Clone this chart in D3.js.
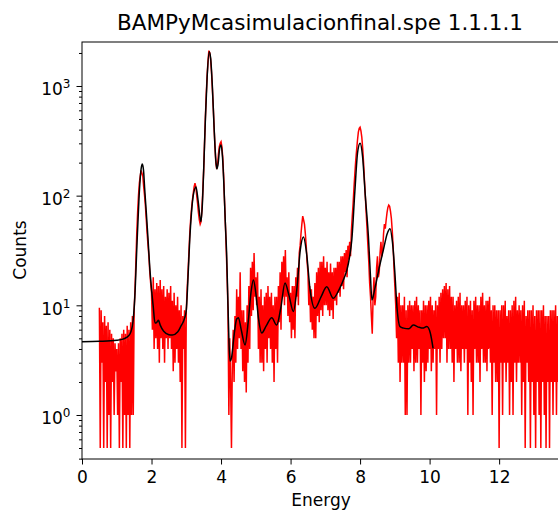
<!DOCTYPE html>
<html>
<head>
<meta charset="utf-8">
<script src="https://cdn.jsdelivr.net/npm/d3@7"></script>
<style>
  body { margin: 0; background: #fff; }
  text { font-family: "DejaVu Sans", sans-serif; fill: #000; }
</style>
</head>
<body>
<svg id="chart"></svg>
<script>
// measured spectrum: channel energy = redStart + i * redStep (keV), 20 channels per row
const redStart = 0.5;
const redStep = 0.025;
const redCounts = [
  9.5, 0.5, 9, 3, 7, 0.5, 8, 2, 6.5, 0.5, 7, 1, 6, 0.5, 5.5, 2, 5, 1, 4.5, 2.5,
  4, 1, 4.5, 0.5, 5, 2, 5.5, 0.5, 6, 1, 5.5, 0.5, 6.5, 1, 6, 0.5, 7, 1, 8, 1,
  9, 14, 25, 45, 70, 100, 130, 150, 170, 160, 150, 120, 100, 80, 60, 45, 35, 28, 20, 16,
  13, 6, 18, 4, 14, 5, 16, 4, 15, 3, 17, 5, 14, 4, 15, 3, 12, 5, 14, 4,
  13, 5, 15, 4, 11, 2.5, 13, 3, 10, 4, 12, 3, 9, 2, 10, 0.5, 8, 4, 9, 0.5,
  9, 14, 20, 30, 45, 60, 75, 90, 105, 120, 130, 120, 100, 85, 70, 60, 55, 58, 75, 110,
  170, 300, 520, 850, 1250, 1700, 2100, 2000, 1750, 1350, 950, 650, 420, 280, 200, 175, 190, 240, 280, 300,
  310, 280, 220, 150, 90, 55, 32, 18, 9, 1, 5, 2, 0.5, 3, 6, 2, 8, 3, 14, 4,
  12, 5, 20, 4, 9, 2.5, 9, 2, 7, 1.6, 10, 3, 15, 4, 22, 8, 25, 9, 30, 12,
  18, 10, 20, 4, 12, 3, 14, 3, 10, 2.5, 12, 4, 13, 3, 15, 5, 12, 4, 13, 3,
  10, 2, 12, 4, 12, 3, 15, 7, 20, 6, 25, 12, 28, 10, 32, 12, 18, 8, 20, 7,
  13, 5, 15, 6, 15, 5, 18, 12, 22, 10, 30, 35, 45, 55, 65, 60, 55, 45, 35, 25,
  20, 10, 15, 7, 14, 6, 12, 5, 16, 5, 20, 8, 22, 7, 25, 9, 25, 8, 28, 10,
  22, 10, 25, 9, 20, 8, 24, 9, 20, 7.5, 22, 11, 22, 10, 25, 13, 25, 12, 28, 15,
  28, 14, 30, 20, 32, 18, 35, 26, 38, 28, 48, 65, 85, 120, 160, 210, 260, 320, 380, 410,
  420, 390, 340, 270, 200, 140, 100, 70, 50, 35, 25, 16, 12, 8, 5.5, 12, 18, 10, 12, 22,
  28, 18, 20, 30, 38, 28, 32, 45, 55, 50, 60, 70, 78, 82, 80, 72, 62, 48, 35, 22,
  15, 10, 5, 12, 3, 13, 2, 10, 3, 10, 3, 12, 1, 9, 1, 10, 3, 11, 3, 10,
  4, 10, 2.5, 11, 3, 12, 3, 10, 4, 9, 1, 9, 3, 11, 2, 10, 2.5, 10, 3, 11,
  4, 12, 2.5, 10, 3, 9, 4, 11, 1, 10, 4, 12, 3, 13, 4, 14, 5, 15, 5, 16,
  3, 14, 4, 15, 4, 12, 3, 12, 2, 10, 4, 11, 3, 12, 3, 13, 2.5, 10, 4, 10,
  3, 11, 4, 12, 1, 10, 3, 11, 2, 9, 1, 11, 4, 12, 3, 10, 3, 10, 2, 12,
  4, 13, 3, 10, 3, 11, 2.5, 11, 4, 12, 3, 9, 1, 10, 3, 10, 2, 9, 2, 9,
  0.5, 9, 3, 10, 1, 10, 3, 11, 2, 8, 3, 9, 1, 9, 2, 10, 1, 11, 3, 12,
  2, 9, 3, 10, 3, 9, 1, 10, 2, 11, 0.5, 8, 3, 9, 2, 9, 0.5, 9, 2, 10,
  1, 8, 0.5, 9, 2, 9, 1, 9, 0.5, 9, 2, 10, 1, 8, 0.5, 8, 2, 8, 0.5, 9,
  2, 9, 1, 9, 2, 10, 1, 8, 2, 8, 1, 9, 2, 9, 2, 10, 2, 10, 1, 9
];

// fitted curve
const fitEnergy = [
  0, 0.5, 1.0, 1.2, 1.35, 1.45, 1.52, 1.58, 1.64, 1.70,
  1.735, 1.77, 1.80, 1.85, 1.90, 1.95, 2.00, 2.05, 2.10, 2.15,
  2.20, 2.25, 2.35, 2.50, 2.60, 2.75, 2.85, 2.95, 3.00, 3.05,
  3.10, 3.15, 3.20, 3.28, 3.34, 3.42, 3.46, 3.50, 3.55, 3.60,
  3.66, 3.70, 3.75, 3.80, 3.85, 3.88, 3.92, 3.96, 4.00, 4.04,
  4.08, 4.12, 4.16, 4.20, 4.23, 4.26, 4.30, 4.38, 4.45, 4.50,
  4.58, 4.69, 4.78, 4.86, 4.93, 5.00, 5.08, 5.17, 5.30, 5.46,
  5.60, 5.72, 5.84, 5.95, 6.08, 6.18, 6.28, 6.37, 6.46, 6.56,
  6.70, 6.88, 7.04, 7.23, 7.40, 7.55, 7.62, 7.70, 7.76, 7.85,
  7.93, 8.00, 8.07, 8.15, 8.24, 8.30, 8.34, 8.42, 8.55, 8.67,
  8.78, 8.86, 8.93, 9.00, 9.06, 9.15, 9.25, 9.40, 9.53, 9.70,
  9.80, 9.92, 10.02, 10.10
];
const fitCounts = [
  4.66, 4.7, 4.8, 4.95, 5.3, 6.5, 12, 35, 95, 175,
  194, 170, 120, 70, 40, 22, 14, 9.7, 6.9, 7.0,
  7.3, 6.6, 5.8, 5.4, 5.35, 5.7, 6.5, 7.6, 9, 18,
  40, 70, 100, 120, 90, 58, 80, 170, 500, 1200,
  2050, 1800, 1000, 420, 210, 175, 200, 270, 290, 230,
  130, 60, 30, 10, 4.5, 3.1, 3.3, 5.5, 7.5, 7.7,
  6, 4.35, 7, 13, 17, 13, 7.5, 5.6, 6.5, 7.7,
  6.6, 9.5, 16, 12.5, 8.8, 14, 32, 42, 30, 14,
  9.4, 12, 14.8, 11.6, 14, 18, 21, 28, 39, 110,
  250, 300, 230, 100, 42, 18, 11.2, 14, 22, 32,
  45, 50, 38, 20, 9.7, 6.4, 6.2, 6.1, 6.6, 6.3,
  6.2, 6.4, 5.6, 4.05
];

const xTicks = [0, 2, 4, 6, 8, 10, 12];
const yTicks = [1, 10, 100, 1000];
const yMinorTicks = [0.4, 0.5, 0.6, 0.7, 0.8, 0.9, 2, 3, 4, 5, 6, 7, 8, 9,
  20, 30, 40, 50, 60, 70, 80, 90, 200, 300, 400, 500, 600, 700, 800, 900, 2000];
const titleText = 'BAMPyMcasimulacionfinal.spe 1.1.1.1';

let margin = {top: 42, left: 82};
let width = 479;
let height = 417;

let svg = d3.select('#chart').attr('width', 558).attr('height', 511);

let x = d3.scaleLinear().domain([0, 13.78]).range([0, width]);
let y = d3.scaleLog().domain([0.397, 2518]).range([height, 0]);

let g = svg.append('g').attr('transform', `translate(${margin.left},${margin.top})`);

g.append('clipPath').attr('id', 'clip')
  .append('rect').attr('width', width).attr('height', height);

let red = redCounts.map((c, i) => ({e: redStart + i * redStep, c: c}));
let fit = fitEnergy.map((e, i) => ({e: e, c: fitCounts[i]}));

g.append('path')
  .datum(red)
  .attr('clip-path', 'url(#clip)')
  .attr('fill', 'none')
  .attr('stroke', '#ff0000')
  .attr('stroke-width', 1.5)
  .attr('d', d3.line().x(d => x(d.e)).y(d => y(d.c)));

g.append('path')
  .datum(fit)
  .attr('clip-path', 'url(#clip)')
  .attr('fill', 'none')
  .attr('stroke', '#000')
  .attr('stroke-width', 1.5)
  .attr('d', d3.line().curve(d3.curveMonotoneX).x(d => x(d.e)).y(d => y(d.c)));

// spines
g.append('rect')
  .attr('width', width).attr('height', height)
  .attr('fill', 'none').attr('stroke', '#000').attr('stroke-width', 1);

// x axis
let xAxis = g.append('g')
  .attr('transform', `translate(0,${height})`)
  .call(d3.axisBottom(x).tickValues(xTicks).tickSize(5.5).tickPadding(6).tickFormat(d3.format('d')));
xAxis.select('.domain').remove();
xAxis.selectAll('text').attr('font-size', 17).attr('font-family', 'DejaVu Sans');

// y axis minor ticks
let yMinor = g.append('g')
  .call(d3.axisLeft(y).tickValues(yMinorTicks).tickSize(3).tickFormat(''));
yMinor.select('.domain').remove();

// y axis major ticks with 10^n labels
let yAxis = g.append('g')
  .call(d3.axisLeft(y).tickValues(yTicks).tickSize(5.5).tickPadding(6).tickFormat(''));
yAxis.select('.domain').remove();
yAxis.selectAll('.tick').each(function(d) {
  let t = d3.select(this).select('text')
    .attr('font-size', 17)
    .attr('dy', null)
    .attr('y', 9)
    .attr('text-anchor', 'end');
  t.append('tspan').text('10');
  t.append('tspan').attr('font-size', 12).attr('dy', -7).text(Math.round(Math.log10(d)));
});

svg.selectAll('.tick line').attr('stroke', '#000').attr('stroke-width', 1);

// labels
svg.append('text')
  .attr('x', 320).attr('y', 30)
  .attr('text-anchor', 'middle')
  .attr('font-size', 21.5)
  .text(titleText);

svg.append('text')
  .attr('x', 321).attr('y', 506)
  .attr('text-anchor', 'middle')
  .attr('font-size', 17)
  .text('Energy');

svg.append('text')
  .attr('transform', 'translate(26,250) rotate(-90)')
  .attr('text-anchor', 'middle')
  .attr('font-size', 17)
  .text('Counts');
</script>
</body>
</html>
